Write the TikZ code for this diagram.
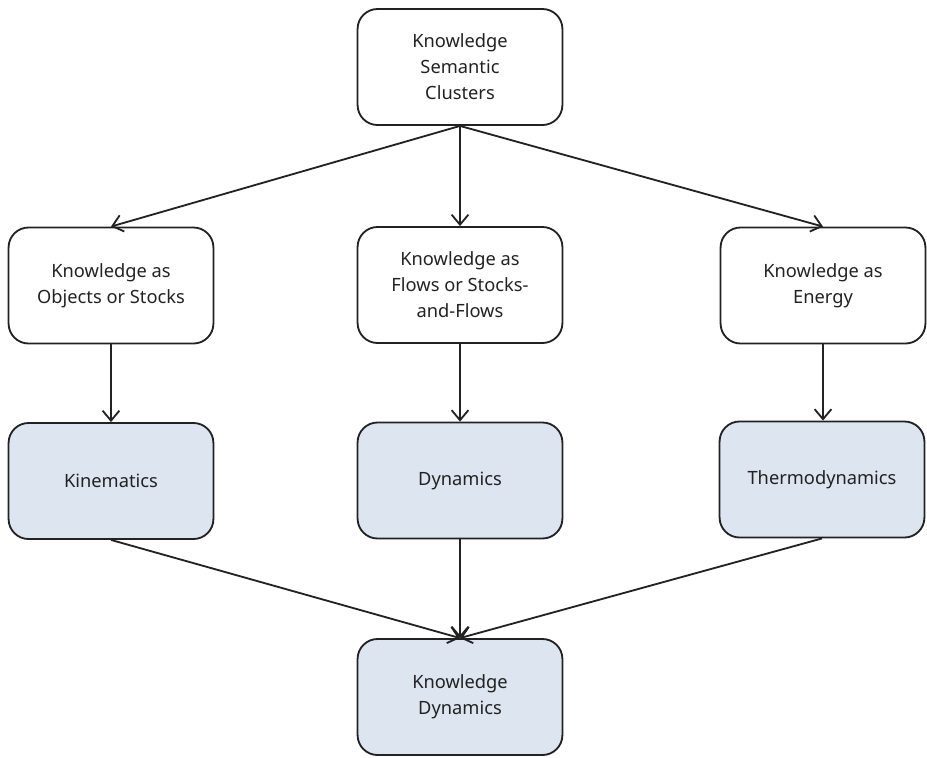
\documentclass[tikz,border=0pt]{standalone}
\usepackage{fontspec}
\setmainfont{Noto Sans}
\usetikzlibrary{arrows.meta}
\definecolor{boxfill}{HTML}{DCE5F0}
\definecolor{ink}{HTML}{222222}
\tikzset{
    box/.style={draw=ink, line width=1.3pt, rounded corners=0.5cm,
        minimum width=5.12cm, minimum height=2.9cm, align=center,
        text=ink, font=\fontsize{13}{18.5}\selectfont},
    physbox/.style={box, fill=boxfill},
    arr/.style={draw=ink, line width=1.3pt,
        -{Straight Barb[length=0.25cm, width=0.42cm, line width=1.3pt]}}
}
\begin{document}
\begin{tikzpicture}[x=0.025cm, y=-0.025cm]
    \useasboundingbox (0, 0) rectangle (927, 757) ;
    \node[box] (clusters) at (460, 67) {Knowledge\\Semantic\\Clusters} ;
    \node[box] (objects) at (111, 285.5) {Knowledge as\\Objects or Stocks} ;
    \node[box] (flows) at (460, 285) {Knowledge as\\Flows or Stocks-\\and-Flows} ;
    \node[box] (energy) at (823, 285.5) {Knowledge as\\Energy} ;
    \node[physbox] (kinematics) at (111, 481) {Kinematics} ;
    \node[physbox] (dynamics) at (460, 480.5) {Dynamics} ;
    \node[physbox] (thermo) at (822, 479.5) {Thermodynamics} ;
    \node[physbox] (kdyn) at (460, 697) {Knowledge\\Dynamics} ;
    \draw[arr] (clusters.south) -- (objects.north) ;
    \draw[arr] (clusters.south) -- (flows.north) ;
    \draw[arr] (clusters.south) -- (energy.north) ;
    \draw[arr] (objects) -- (kinematics) ;
    \draw[arr] (flows) -- (dynamics) ;
    \draw[arr] (energy) -- (thermo.north -| energy) ;
    \draw[arr] (kinematics.south) -- (kdyn.north) ;
    \draw[arr] (dynamics.south) -- (kdyn.north) ;
    \draw[arr] (thermo.south) -- (kdyn.north) ;
\end{tikzpicture}
\end{document}
